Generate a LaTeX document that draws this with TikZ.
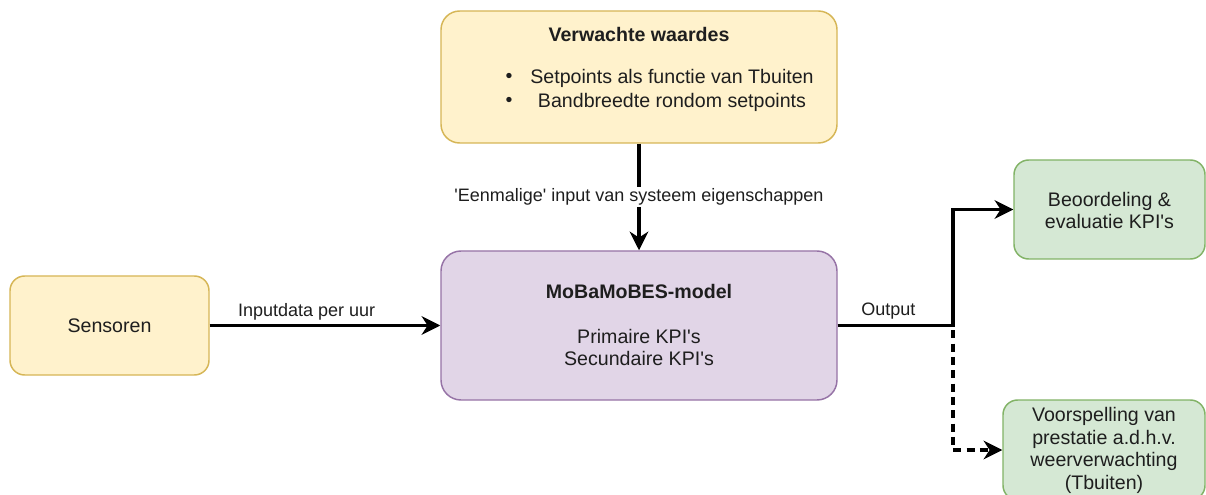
\documentclass[tikz,border=0pt]{standalone}
\usepackage{fontspec}
\newfontfamily\dfont{Liberation Sans}
\usetikzlibrary{arrows.meta}
\definecolor{yfill}{HTML}{FFF2CC}
\definecolor{ydraw}{HTML}{D6B656}
\definecolor{pfill}{HTML}{E1D5E7}
\definecolor{pdraw}{HTML}{9673A6}
\definecolor{gfill}{HTML}{D5E8D4}
\definecolor{gdraw}{HTML}{82B366}
\definecolor{txtc}{HTML}{1E1E1E}
\begin{document}
\begin{tikzpicture}[x=0.75pt,y=-0.75pt,
  txt/.style={font=\dfont\fontsize{14.7}{16.8}\selectfont, text=txtc, inner sep=0pt, align=center},
  lbl/.style={font=\dfont\fontsize{13.5}{16}\selectfont, text=txtc, inner sep=1pt},
  box/.style={draw, line width=1.1pt, rounded corners=14pt},
  ybox/.style={box, fill=yfill, draw=ydraw},
  pbox/.style={box, fill=pfill, draw=pdraw},
  gbox/.style={box, fill=gfill, draw=gdraw, rounded corners=11pt},
  arr/.style={line width=2.5pt, -{Stealth[length=14pt,width=14pt,inset=4.5pt]}},
]
\useasboundingbox (0,0) rectangle (1206,495);
\clip (0,0) rectangle (1206,495);
\fill[white] (0,0) rectangle (1206,495);

% boxes
\node[ybox, minimum width=297pt, minimum height=99pt] (ver) at (639,77) {};
\node[ybox, minimum width=149.25pt, minimum height=74.25pt, rounded corners=11pt] (sen) at (109.5,325.5) {};
\node[pbox, minimum width=297pt, minimum height=111.75pt, rounded corners=15pt] (mob) at (639,325.5) {};
\node[gbox, minimum width=143.25pt, minimum height=74.25pt] (beo) at (1109.5,209.5) {};
\node[gbox, minimum width=151.5pt, minimum height=75pt] (voo) at (1104,450) {};

% texts
\node[txt] (vtitle) at (639,34) {\bfseries Verwachte waardes};
\node[txt] (bul1) at (509,78) {•};
\node[txt] (bul2) at (509,102) {•};
\node[txt] (vb1) at (672,78) {Setpoints als functie van Tbuiten};
\node[txt] (vb2) at (672,102) {Bandbreedte rondom setpoints};
\node[txt] (sentxt) at (109.5,325.5) {Sensoren};
\node[txt] (mtitle) at (639,291) {\bfseries MoBaMoBES-model};
\node[txt, font=\dfont\fontsize{14.7}{17.2}\selectfont] (mkpi) at (639,347.5) {Primaire KPI's\\Secundaire KPI's};
\node[txt] (beotxt) at (1109.5,210.5) {Beoordeling \&\\evaluatie KPI's};
\node[txt] (vootxt) at (1104,450.5) {Voorspelling van\\prestatie a.d.h.v.\\weerverwachting\\(Tbuiten)};

% connectors
\coordinate (j) at (953,325.5);
\draw[arr] (ver) -- (mob) node[lbl, midway, fill=white] (l1) {'Eenmalige' input van systeem eigenschappen};
\draw[arr] (sen) -- (mob) node[lbl, pos=0.42, yshift=10.5pt] (l2) {Inputdata per uur};
\draw[arr] (mob.east) -- (j) |- (beo.west);
\draw[arr, dash pattern=on 6pt off 4pt] (mob.east) -- (j) |- (voo.west);
\path (mob.east) -- (j) node[lbl, pos=0.44, yshift=10.5pt] (l3) {Output};
\end{tikzpicture}
\end{document}
